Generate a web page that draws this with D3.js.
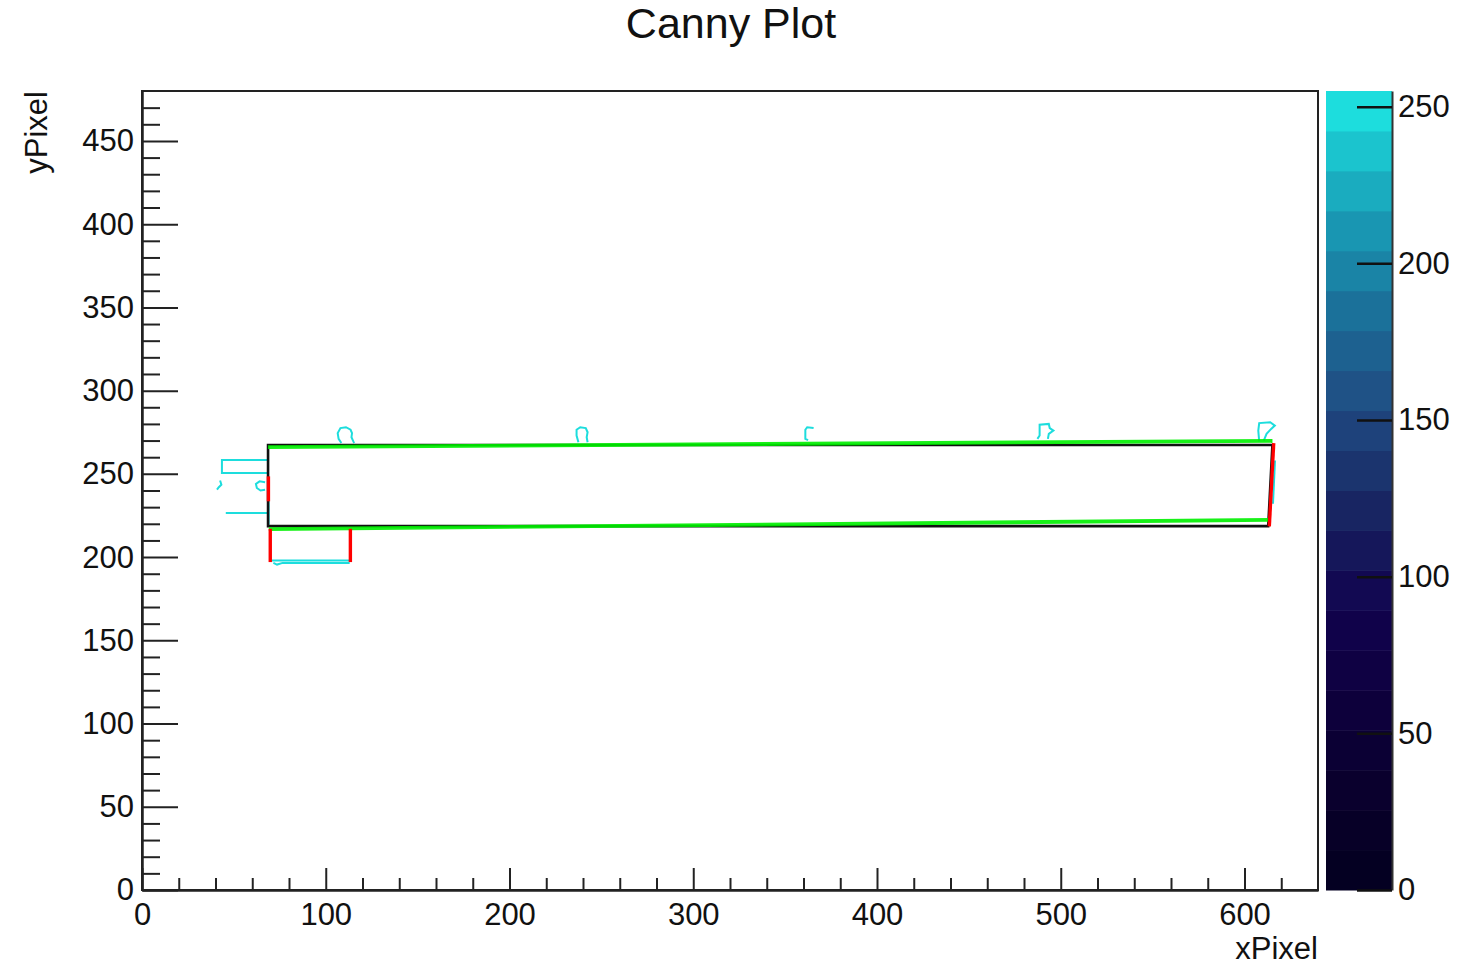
<!DOCTYPE html>
<html>
<head>
<meta charset="utf-8">
<script src="https://cdn.jsdelivr.net/npm/d3@7"></script>
<style>
  body { margin: 0; background: #fff; }
  svg text { font-family: "Liberation Sans", Arial, sans-serif; fill: #111; }
</style>
</head>
<body>
<div id="chart"></div>
<script>
// axis ranges and ticks
const xDomain = [0, 640];
const yDomain = [0, 480];
const zDomain = [0, 255];
const xMajor = [0, 100, 200, 300, 400, 500, 600];
const xMinor = [20, 40, 60, 80, 120, 140, 160, 180, 220, 240, 260, 280, 320, 340, 360, 380,
                420, 440, 460, 480, 520, 540, 560, 580, 620];
const yMajor = [0, 50, 100, 150, 200, 250, 300, 350, 400, 450];
const yMinor = [10, 20, 30, 40, 60, 70, 80, 90, 110, 120, 130, 140, 160, 170, 180, 190,
                210, 220, 230, 240, 260, 270, 280, 290, 310, 320, 330, 340, 360, 370, 380, 390,
                410, 420, 430, 440, 460, 470];
const zTicks = [0, 50, 100, 150, 200, 250];
const zBands = 20;

// deep sea palette
const palStops = [0, 0.125, 0.25, 0.375, 0.5, 0.625, 0.75, 0.875, 1];
const palColors = ["rgb(0,0,28)", "rgb(9,0,42)", "rgb(13,0,59)", "rgb(17,2,78)", "rgb(24,37,98)",
                   "rgb(32,74,129)", "rgb(27,113,154)", "rgb(25,160,184)", "rgb(29,221,221)"];

// canny edge pixels (value 255), as traced outlines in pixel coords
const cannyEdges = [
  [[68.5, 258.3], [43.5, 258.3], [43.5, 250.5], [68.5, 250.5]],
  [[45.6, 226.5], [68.5, 226.5]],
  [[42.5, 246], [43.2, 243.5], [41.8, 242], [40.8, 240.5]],
  [[67, 245], [64, 245.5], [62, 244], [62.5, 241.5], [64.5, 240], [67, 240.5]],
  [[68.9, 236], [68.9, 219.5]],
  [[70.5, 198], [113, 198]],
  [[71.5, 196.5], [73.5, 195.5], [76.5, 196.5], [113, 196.5]],
  [[108.5, 268.5], [107, 271], [106.5, 274.5], [108, 277.5], [111, 278], [113.5, 276.5],
   [114.3, 274.5], [114, 272], [115, 269.5], [115.5, 268.5]],
  [[237.5, 269], [236.5, 273], [236.5, 276.5], [238.5, 278], [241.5, 277.5], [242.5, 275],
   [242, 272], [242.5, 269]],
  [[365.5, 277.5], [362, 278], [361, 276.5], [361, 271], [362.5, 270.3]],
  [[487.3, 271], [488.5, 273], [488.5, 279.5], [493.5, 280], [494, 277.5], [496, 276],
   [493.5, 274], [493, 271]],
  [[608, 269.5], [607.5, 276], [608, 280.5], [614, 281], [616.5, 279], [614.5, 277],
   [612, 274], [610.5, 270]],
  [[616.6, 258], [615.5, 232]]
];

// detected box (black), fitted lines (green), vertical segments (red)
const boxCorners = [[68.6, 267.3], [615.2, 267.3], [612.9, 218.6], [68.6, 218.6]];
const greenLines = [
  [[68.6, 266.1], [615.2, 269.8]],
  [[69, 216.8], [612.9, 222.3]]
];
const redLines = [
  [[68.8, 248.5], [68.8, 233.5]],
  [[69.8, 217], [69.8, 197]],
  [[113.4, 217], [113.4, 197]],
  [[615.9, 268.5], [613.5, 218.5]]
];

class CannyVis {
  constructor(parentElement) {
    this.parentElement = parentElement;
    this.initVis();
  }

  initVis() {
    let vis = this;
    vis.W = 1475;
    vis.H = 965;
    vis.frame = { left: 142, right: 1318, top: 91, bottom: 890 };
    vis.bar = { left: 1326, right: 1392 };

    vis.svg = d3.select(`#${vis.parentElement}`)
      .append("svg")
      .attr("width", vis.W)
      .attr("height", vis.H);

    vis.xScale = d3.scaleLinear().domain(xDomain).range([vis.frame.left, vis.frame.right]);
    vis.yScale = d3.scaleLinear().domain(yDomain).range([vis.frame.bottom, vis.frame.top]);
    vis.zScale = d3.scaleLinear().domain(zDomain).range([vis.frame.bottom, vis.frame.top]);
    vis.palette = d3.scaleLinear().domain(palStops).range(palColors).interpolate(d3.interpolateRgb);

    vis.svg.append("defs").append("clipPath")
      .attr("id", "frameClip")
      .append("rect")
      .attr("x", vis.frame.left)
      .attr("y", vis.frame.top)
      .attr("width", vis.frame.right - vis.frame.left)
      .attr("height", vis.frame.bottom - vis.frame.top);

    vis.svg.append("text")
      .attr("x", 731)
      .attr("y", 38)
      .attr("text-anchor", "middle")
      .style("font-size", "43px")
      .text("Canny Plot");

    vis.updateVis();
  }

  updateVis() {
    let vis = this;
    const line = d3.line().x(d => vis.xScale(d[0])).y(d => vis.yScale(d[1]));
    const plot = vis.svg.append("g").attr("clip-path", "url(#frameClip)");

    plot.selectAll(".edge")
      .data(cannyEdges)
      .enter().append("path")
      .attr("class", "edge")
      .attr("d", line)
      .attr("fill", "none")
      .attr("stroke", palColors[palColors.length - 1])
      .attr("stroke-width", 2);

    plot.append("path")
      .attr("d", line(boxCorners) + "Z")
      .attr("fill", "none")
      .attr("stroke", "#111")
      .attr("stroke-width", 2.6);

    plot.selectAll(".green")
      .data(greenLines)
      .enter().append("path")
      .attr("class", "green")
      .attr("d", line)
      .attr("stroke", "#00f000")
      .attr("stroke-width", 3.8)
      .attr("opacity", 0.9);

    plot.selectAll(".red")
      .data(redLines)
      .enter().append("path")
      .attr("class", "red")
      .attr("d", line)
      .attr("stroke", "#ff0000")
      .attr("stroke-width", 3.4);

    // frame
    vis.svg.append("rect")
      .attr("x", vis.frame.left)
      .attr("y", vis.frame.top)
      .attr("width", vis.frame.right - vis.frame.left)
      .attr("height", vis.frame.bottom - vis.frame.top)
      .attr("fill", "none")
      .attr("stroke", "#222")
      .attr("stroke-width", 2);

    // axes
    const fs = "31px";
    const yAx = vis.svg.append("g")
      .attr("transform", `translate(${vis.frame.left},0)`)
      .call(d3.axisLeft(vis.yScale).tickValues(yMajor).tickSizeInner(-36).tickSizeOuter(0).tickPadding(8));
    const yMin = vis.svg.append("g")
      .attr("transform", `translate(${vis.frame.left},0)`)
      .call(d3.axisLeft(vis.yScale).tickValues(yMinor).tickSizeInner(-18).tickSizeOuter(0).tickFormat(""));
    const xAx = vis.svg.append("g")
      .attr("transform", `translate(0,${vis.frame.bottom})`)
      .call(d3.axisBottom(vis.xScale).tickValues(xMajor).tickSizeInner(-22).tickSizeOuter(0).tickPadding(13));
    const xMin = vis.svg.append("g")
      .attr("transform", `translate(0,${vis.frame.bottom})`)
      .call(d3.axisBottom(vis.xScale).tickValues(xMinor).tickSizeInner(-12).tickSizeOuter(0).tickFormat(""));

    [yAx, yMin, xAx, xMin].forEach(g => {
      g.select(".domain").attr("stroke", "#222").attr("stroke-width", 2);
      g.selectAll(".tick line").attr("stroke", "#222").attr("stroke-width", 2);
      g.selectAll("text").style("font-size", fs).attr("fill", "#111")
        .style("font-family", "'Liberation Sans', Arial, sans-serif");
    });

    vis.svg.append("text")
      .attr("x", vis.frame.right)
      .attr("y", 959)
      .attr("text-anchor", "end")
      .style("font-size", fs)
      .text("xPixel");

    vis.svg.append("text")
      .attr("transform", `translate(47,${vis.frame.top}) rotate(-90)`)
      .attr("text-anchor", "end")
      .style("font-size", fs)
      .text("yPixel");

    // colour bar
    const step = (zDomain[1] - zDomain[0]) / zBands;
    const bands = d3.range(zBands).map(i => ({ lo: zDomain[0] + i * step, hi: zDomain[0] + (i + 1) * step, f: (i + 0.99) / zBands }));
    vis.svg.selectAll(".band")
      .data(bands)
      .enter().append("rect")
      .attr("class", "band")
      .attr("x", vis.bar.left)
      .attr("width", vis.bar.right - vis.bar.left)
      .attr("y", d => vis.zScale(d.hi))
      .attr("height", d => vis.zScale(d.lo) - vis.zScale(d.hi) + 0.5)
      .attr("fill", d => vis.palette(Math.min(1, d.f)));

    const zAx = vis.svg.append("g")
      .attr("transform", `translate(${vis.bar.right},0)`)
      .call(d3.axisRight(vis.zScale).tickValues(zTicks).tickSizeInner(-35).tickSizeOuter(0).tickPadding(6));
    zAx.select(".domain").attr("stroke", "#333").attr("stroke-width", 2);
    zAx.selectAll(".tick line").attr("stroke", "#111").attr("stroke-width", 2.5);
    zAx.selectAll("text").style("font-size", fs).attr("fill", "#111")
      .style("font-family", "'Liberation Sans', Arial, sans-serif");
  }
}

new CannyVis("chart");
</script>
</body>
</html>
